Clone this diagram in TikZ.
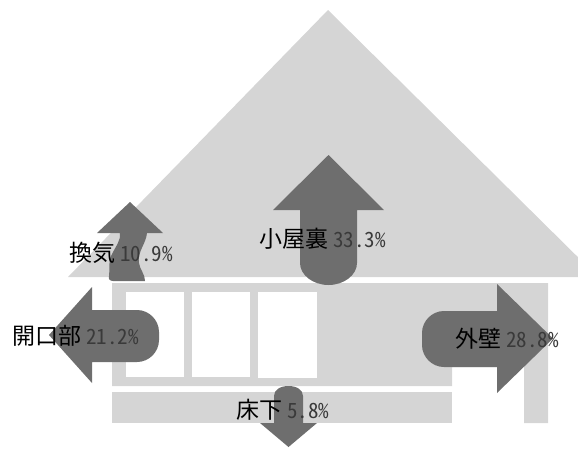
\documentclass[tikz,border=0pt]{standalone}
\usepackage{fontspec}
\newfontfamily\jpfont{Noto Sans CJK JP}
\newfontfamily\numfont[RawFeature=+hwid]{Noto Sans CJK JP}
\definecolor{houseGray}{HTML}{D5D5D5}
\definecolor{flowGray}{HTML}{6E6E6E}
\definecolor{numGray}{HTML}{3A3A3A}
\newcommand\pct[1]{\hspace{5pt}{\numfont\fontsize{21}{21}\selectfont\color{numGray}#1}}
\tikzset{
  house/.style={fill=houseGray},
  opening/.style={fill=white},
  flow/.style={fill=flowGray},
  lbl/.style={anchor=base west, inner sep=0pt, text=black,
    font=\jpfont\fontsize{23}{23}\selectfont}
}
\begin{document}
\begin{tikzpicture}[x=1pt,y=-1pt]
\useasboundingbox (0,0) rectangle (578,448);
\clip (0,0) rectangle (578,448);

% roof
\fill[house] (68,277) -- (328,10) -- (598,277) -- cycle;
% wall with right-hand post
\fill[house] (112,283) -- (548,283) -- (548,423) -- (524,423) -- (524,367)
  -- (452,367) -- (452,386) -- (112,386) -- cycle;
% floor strip
\fill[house] (112,392) rectangle (452,423);
% windows
\fill[opening] (126,292) rectangle (184,377);
\fill[opening] (192,292) rectangle (250,377);
\fill[opening] (258,292) rectangle (317,378);

% attic (up)
\fill[flow] (300,210) -- (273,210) -- (328.5,155) -- (384,210) -- (357,210)
  -- (357,263) .. controls (357,275) and (344,285) .. (328.5,285)
  .. controls (313,285) and (300,275) .. (300,263) -- cycle;
% ventilation (wavy, up)
\fill[flow] (120,233) -- (97,233) -- (130,202) -- (163,233) -- (147,233)
  .. controls (146,244) and (137,252) .. (139,263)
  .. controls (140,270) and (145,274) .. (145,281) -- (113,281)
  .. controls (110,281) and (108,279) .. (109,276)
  .. controls (110,266) and (108,262) .. (112,254)
  .. controls (116,246) and (121,240) .. (120,233) -- cycle;
% openings (left)
\fill[flow] (92,310) -- (92,287) -- (49,335) -- (92,383) -- (92,362) -- (137,362)
  .. controls (149,362) and (159,352) .. (159,340) -- (159,332)
  .. controls (159,320) and (149,310) .. (137,310) -- cycle;
% outer wall (right)
\fill[flow] (497,311) -- (497,284) -- (553,338.5) -- (497,393) -- (497,367) -- (444,367)
  .. controls (432,367) and (422,357) .. (422,345) -- (422,333)
  .. controls (422,321) and (432,311) .. (444,311) -- cycle;
% under floor (down)
\fill[flow] (274,423) -- (274,396) .. controls (274,390) and (280,386) .. (288.5,386)
  .. controls (297,386) and (303,390) .. (303,396) -- (303,423) -- (317,423)
  -- (288.5,447) -- (260,423) -- cycle;

% labels
\node[lbl] (vent)  at (69,261.5) {換気\pct{10.9\%}};
\node[lbl] (open)  at (12,344.5) {開口部\pct{21.2\%}};
\node[lbl] (attic) at (259,247)  {小屋裏\pct{33.3\%}};
\node[lbl] (outer) at (455,347)  {外壁\pct{28.8\%}};
\node[lbl] (floor) at (236,418)  {床下\pct{5.8\%}};
\end{tikzpicture}
\end{document}
